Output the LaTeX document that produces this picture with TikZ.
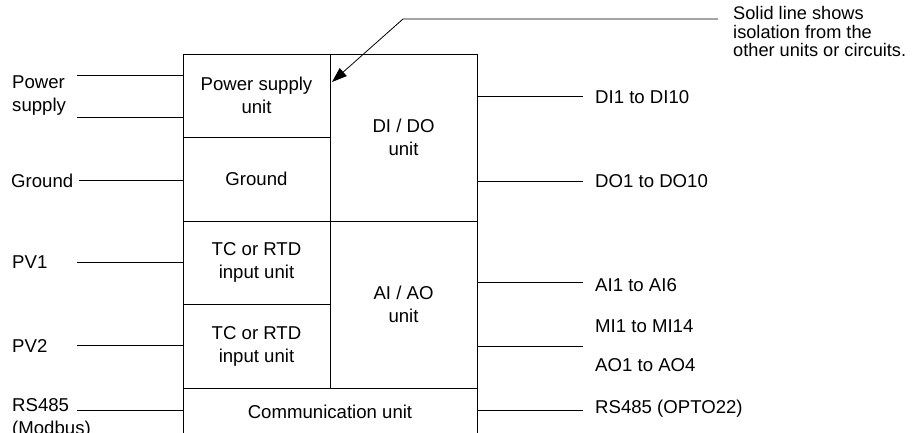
\documentclass[tikz,border=0pt]{standalone}
\usepackage{fontspec}
\setmainfont{Liberation Sans}
\usetikzlibrary{arrows.meta}

\begin{document}
\begin{tikzpicture}[x=1pt,y=1pt,yscale=-1,xscale=1,
    cell/.style={draw, line width=0.8pt, minimum width=147pt, inner sep=0pt, align=center, font=\fontsize{18.6}{23}\selectfont},
    lbl/.style={anchor=west, inner sep=0pt, align=left, font=\fontsize{18.6}{23}\selectfont},
    wire/.style={line width=0.8pt}]
    \useasboundingbox (0,0) rectangle (912,432);

    %Shape: Rectangle [psu]
    \node [cell, minimum height=83.5pt] (psu) at (256.5,95.75) {Power supply\\unit};
    %Shape: Rectangle [gnd]
    \node [cell, minimum height=83.5pt] (gnd) at (256.5,179.25) {Ground};
    %Shape: Rectangle [tcA]
    \node [cell, minimum height=83pt] (tcA) at (256.5,262.5) {TC or RTD\\input unit};
    %Shape: Rectangle [tcB]
    \node [cell, minimum height=84pt] (tcB) at (256.5,346) {TC or RTD\\input unit};
    %Shape: Rectangle [dido]
    \node [cell, minimum height=167pt] (dido) at (403.5,137.5) {DI / DO\\unit};
    %Shape: Rectangle [aiao]
    \node [cell, minimum height=167pt] (aiao) at (403.5,304.5) {AI / AO\\unit};
    %Shape: Rectangle [comm]
    \node [cell, minimum width=294pt, minimum height=48pt] (comm) at (330,412) {Communication unit};

    % Text Node
    \node [lbl] (pwr) at (12,96) {Power\\supply};
    \node [lbl] (gndl) at (11,180.5) {Ground};
    \node [lbl] (pva) at (12,262) {PV1};
    \node [lbl] (pvb) at (12,346) {PV2};
    \node [lbl] (rsl) at (12,418.5) {RS485\\(Modbus)};

    % Text Node
    \node [lbl] (dil) at (595,97) {DI1 to DI10};
    \node [lbl] (dol) at (595,181) {DO1 to DO10};
    \node [lbl] (ail) at (595,285) {AI1 to AI6};
    \node [lbl] (mil) at (595,326) {MI1 to MI14};
    \node [lbl] (aol) at (595,365.5) {AO1 to AO4};
    \node [lbl] (rsr) at (595,409) {RS485 (OPTO22)};

    % Text Node
    \node [lbl, font=\fontsize{18.2}{18.3}\selectfont] (note) at (733,31.5) {Solid line shows\\isolation from the\\other units or circuits.};

    %Straight Lines (left side)
    \coordinate (pwrA) at (77,75.5);
    \coordinate (pwrB) at (77,117);
    \coordinate (gndA) at (79,180.5);
    \coordinate (pvA) at (77,262.5);
    \coordinate (pvB) at (77,345.5);
    \coordinate (rsA) at (77,410.5);
    \draw [wire] (pwrA) -- (pwrA -| psu.west);
    \draw [wire] (pwrB) -- (pwrB -| psu.west);
    \draw [wire] (gndA) -- (gndA -| gnd.west);
    \draw [wire] (pvA) -- (pvA -| tcA.west);
    \draw [wire] (pvB) -- (pvB -| tcB.west);
    \draw [wire] (rsA) -- (rsA -| comm.west);

    %Straight Lines (right side)
    \coordinate (diA) at (583,96.5);
    \coordinate (doA) at (583,181);
    \coordinate (aiA) at (583,282);
    \coordinate (aoA) at (583,346);
    \coordinate (rsB) at (583,410.5);
    \draw [wire] (diA -| dido.east) -- (diA);
    \draw [wire] (doA -| dido.east) -- (doA);
    \draw [wire] (aiA -| aiao.east) -- (aiA);
    \draw [wire] (aoA -| aiao.east) -- (aoA);
    \draw [wire] (rsB -| comm.east) -- (rsB);

    %Arrow (note)
    \coordinate (noteA) at (718,19);
    \coordinate (noteB) at (403,19);
    \coordinate (noteC) at (332,82);
    \draw [wire, -{Triangle[length=15pt,width=10.5pt]}] (noteA) -- (noteB) -- (noteC);

\end{tikzpicture}
\end{document}
